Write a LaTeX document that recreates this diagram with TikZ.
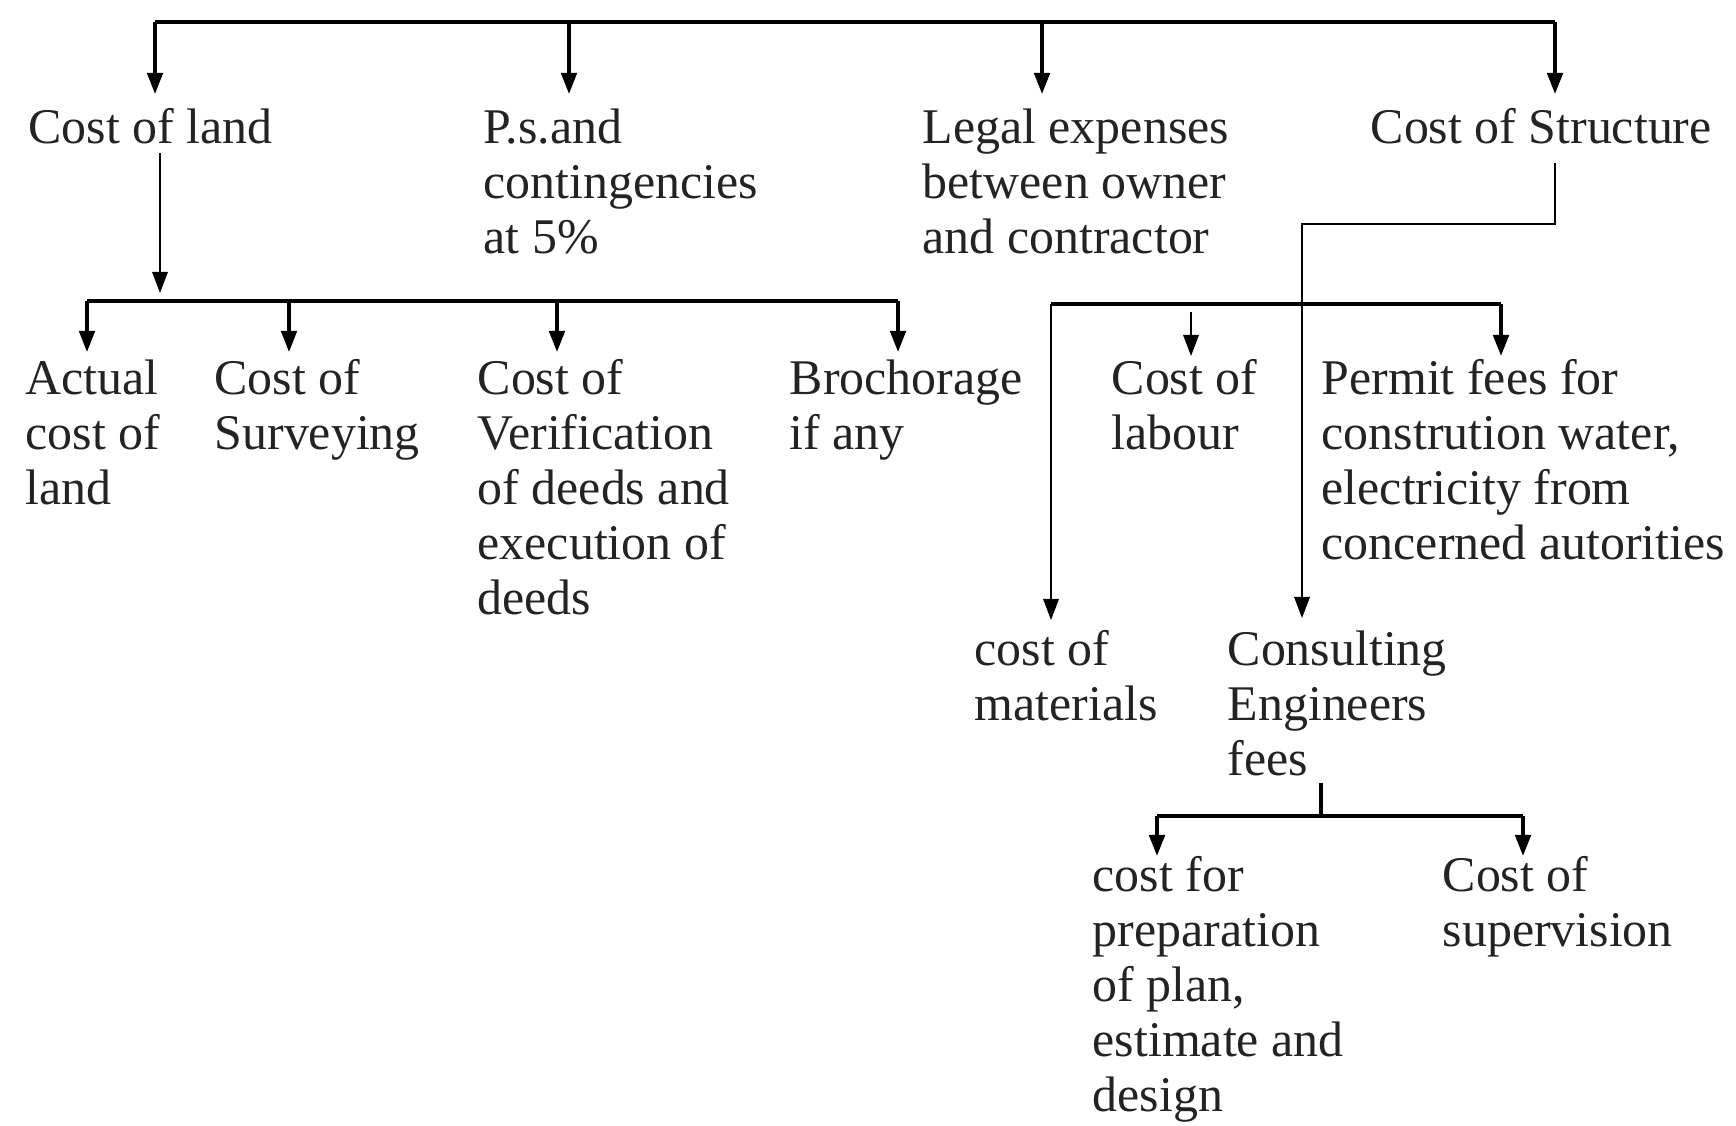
\documentclass[tikz,border=0pt]{standalone}
\usepackage{fontspec}
\setmainfont{Liberation Serif}
\usetikzlibrary{arrows.meta,calc,positioning}
\definecolor{InkGray}{RGB}{35,35,35}

\begin{document}
\begin{tikzpicture}
  [x=1cm,y=1cm,->,>={Triangle[length=6pt,width=4.4pt]},
   every node/.style={anchor=north west,inner sep=0pt,align=left,text=InkGray,font=\fontsize{14.2}{15.65}\selectfont},
   bus/.style={-,line width=1pt},
   branch/.style={line width=1pt},
   thinline/.style={line width=0.55pt}]
  \useasboundingbox (0,0) rectangle (17.36,-11.25);

  \node (nland) at (0.28,-1.08) {Cost of land};
  \node (nps) at (4.83,-1.08) {P.s.and\\contingencies\\at 5\%};
  \node (nlegal) at (9.22,-1.08) {Legal expenses\\between owner\\and contractor};
  \node (nstruct) at (13.70,-1.08) {Cost of Structure};

  \node (nactual) at (0.25,-3.59) {Actual\\cost of\\land};
  \node (nsurvey) at (2.14,-3.59) {Cost of\\Surveying};
  \node (nverif) at (4.77,-3.59) {Cost of\\Verification\\of deeds and\\execution of\\deeds};
  \node (nbroch) at (7.89,-3.59) {Brochorage\\if any};
  \node (nlabour) at (11.11,-3.59) {Cost of\\labour};
  \node (npermit) at (13.21,-3.59) {Permit fees for\\constrution water,\\electricity from\\concerned autorities};

  \node (nmat) at (9.74,-6.30) {cost of\\materials};
  \node (nconsult) at (12.27,-6.30) {Consulting\\Engineers\\fees};

  \node (nprep) at (10.92,-8.56) {cost for\\preparation\\of plan,\\estimate and\\design};
  \node (nsuper) at (14.42,-8.56) {Cost of\\supervision};

  \coordinate (t1) at (1.55,-0.22);
  \coordinate (t2) at (5.69,-0.22);
  \coordinate (t3) at (10.42,-0.22);
  \coordinate (t4) at (15.55,-0.22);
  \draw[bus] (t1) -- (t4);
  \foreach \c/\n in {t1/nland,t2/nps,t3/nlegal,t4/nstruct}
    \draw[branch,shorten >=0.14cm] (\c) -- (\c |- \n.north);

  \coordinate (l1) at (1.60,-3.01);
  \draw[thinline,shorten <=0.08cm,shorten >=0.08cm] (l1 |- nland.south) -- (l1);

  \coordinate (b1) at (0.87,-3.01);
  \coordinate (b2) at (2.89,-3.01);
  \coordinate (b3) at (5.57,-3.01);
  \coordinate (b4) at (8.98,-3.01);
  \draw[bus] (b1) -- (b4);
  \foreach \c/\n in {b1/nactual,b2/nsurvey,b3/nverif,b4/nbroch}
    \draw[branch,shorten >=0.07cm] (\c) -- (\c |- \n.north);

  \coordinate (s1) at (13.02,-2.24);
  \draw[thinline,shorten <=0.18cm,shorten >=0.12cm] (nstruct.south -| t4) |- (s1) -- (s1 |- nconsult.north);

  \coordinate (r1) at (10.51,-3.04);
  \coordinate (r2) at (11.91,-3.04);
  \coordinate (r3) at (15.01,-3.04);
  \draw[bus] (r1) -- (r3);
  \draw[thinline,shorten >=0.1cm] (r1) -- (r1 |- nmat.north);
  \draw[thinline,shorten <=0.08cm,shorten >=0.03cm] (r2) -- (r2 |- nlabour.north);
  \draw[branch,shorten >=0.03cm] (r3) -- (r3 |- npermit.north);

  \coordinate (c1) at (13.21,-8.16);
  \draw[bus,shorten <=0.06cm] (c1 |- nconsult.south) -- (c1);
  \coordinate (d1) at (11.57,-8.16);
  \coordinate (d2) at (15.23,-8.16);
  \draw[bus] (d1) -- (d2);
  \draw[branch] (d1) -- (d1 |- nprep.north);
  \draw[branch] (d2) -- (d2 |- nsuper.north);
\end{tikzpicture}
\end{document}
